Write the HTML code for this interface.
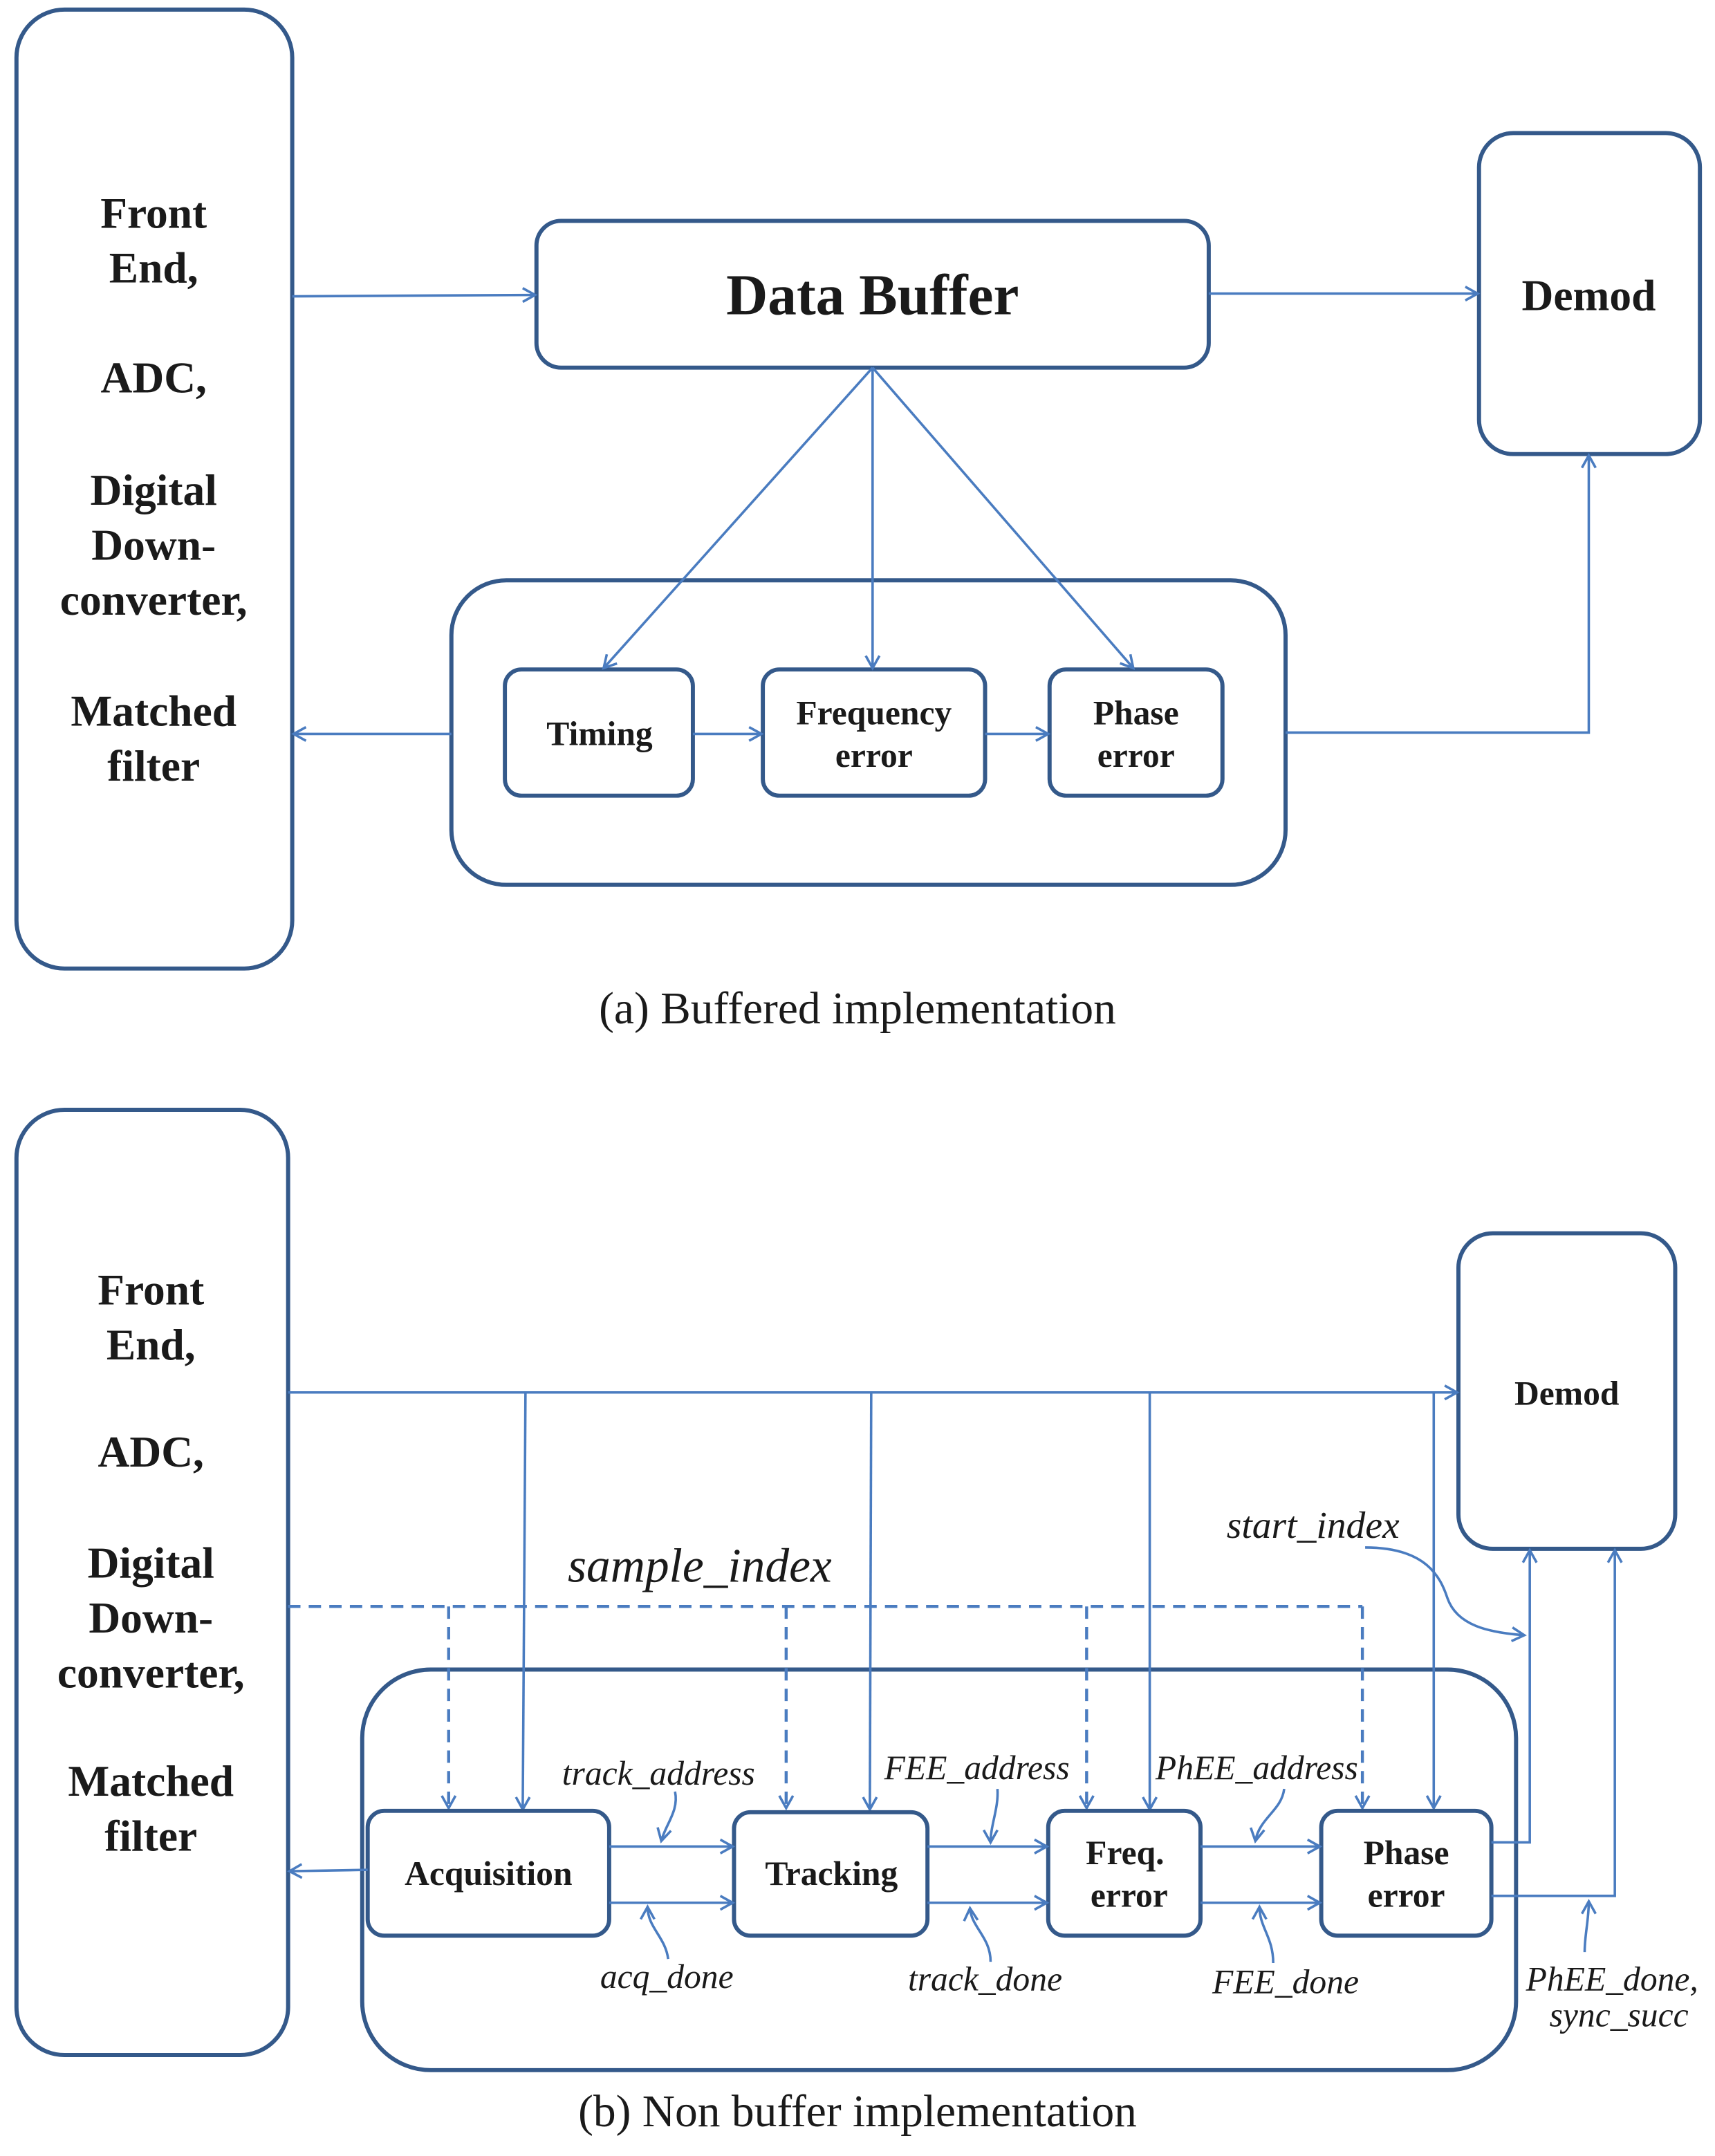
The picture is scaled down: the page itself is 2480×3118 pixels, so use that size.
<!DOCTYPE html>
<html><head><meta charset="utf-8"><style>
html,body{margin:0;padding:0;background:#fff}
svg{display:block}
.bx{fill:none;stroke:#34598a;stroke-width:3}
.ln{fill:none;stroke:#4a7cc0;stroke-width:1.8}
.ds{fill:none;stroke:#4a7cc0;stroke-width:2.2;stroke-dasharray:9,6}
.t{font-family:"Liberation Serif",serif;font-weight:bold;fill:#1a1a1a;text-anchor:middle}
.i{font-family:"Liberation Serif",serif;font-style:italic;fill:#1a1a1a;text-anchor:middle}
.c{font-family:"Liberation Serif",serif;fill:#1a1a1a;text-anchor:middle;font-size:33px}
</style></head><body>
<svg width="2480" height="3118" viewBox="0 0 1250 1571.6" preserveAspectRatio="none" xmlns="http://www.w3.org/2000/svg">
<defs>
<marker id="a" markerWidth="12" markerHeight="12" refX="10" refY="6" orient="auto" markerUnits="userSpaceOnUse">
<path d="M1,1 L10,6 L1,11" fill="none" stroke="#4a7cc0" stroke-width="1.8"/></marker>
</defs>
<!-- (a) -->
<rect class="bx" x="12" y="7" width="201" height="699" rx="35"/>
<g class="t" font-size="32">
<text x="112" y="166">Front</text><text x="112" y="206">End,</text>
<text x="112" y="286">ADC,</text>
<text x="112" y="368">Digital</text><text x="112" y="408">Down-</text><text x="112" y="448">converter,</text>
<text x="112" y="529">Matched</text><text x="112" y="569">filter</text>
</g>
<rect class="bx" x="391" y="161" width="490" height="107" rx="18"/>
<text class="t" x="636" y="229" font-size="42">Data Buffer</text>
<rect class="bx" x="1078" y="97" width="161" height="234" rx="25"/>
<text class="t" x="1158" y="226" font-size="32">Demod</text>
<line class="ln" x1="213" y1="216" x2="390" y2="215" marker-end="url(#a)"/>
<line class="ln" x1="881" y1="214" x2="1077" y2="214" marker-end="url(#a)"/>
<rect class="bx" x="329" y="423" width="608" height="222" rx="40"/>
<rect class="bx" x="368" y="488" width="137" height="92" rx="12"/>
<rect class="bx" x="556" y="488" width="162" height="92" rx="12"/>
<rect class="bx" x="765" y="488" width="126" height="92" rx="12"/>
<g class="t" font-size="25">
<text x="437" y="543">Timing</text>
<text x="637" y="528">Frequency</text><text x="637" y="559">error</text>
<text x="828" y="528">Phase</text><text x="828" y="559">error</text>
</g>
<line class="ln" x1="636" y1="268" x2="440" y2="487" marker-end="url(#a)"/>
<line class="ln" x1="636" y1="268" x2="636" y2="487" marker-end="url(#a)"/>
<line class="ln" x1="636" y1="268" x2="826" y2="487" marker-end="url(#a)"/>
<line class="ln" x1="505" y1="535" x2="555" y2="535" marker-end="url(#a)"/>
<line class="ln" x1="718" y1="535" x2="764" y2="535" marker-end="url(#a)"/>
<line class="ln" x1="329" y1="535" x2="214" y2="535" marker-end="url(#a)"/>
<polyline class="ln" points="937,534 1158,534 1158,332" marker-end="url(#a)"/>
<text class="c" x="625" y="746">(a)  Buffered implementation</text>

<!-- (b) -->
<rect class="bx" x="12" y="809" width="198" height="689" rx="35"/>
<g class="t" font-size="32">
<text x="110" y="951">Front</text><text x="110" y="991">End,</text>
<text x="110" y="1069">ADC,</text>
<text x="110" y="1150">Digital</text><text x="110" y="1190">Down-</text><text x="110" y="1230">converter,</text>
<text x="110" y="1309">Matched</text><text x="110" y="1349">filter</text>
</g>
<rect class="bx" x="1063" y="899" width="158" height="230" rx="25"/>
<text class="t" x="1142" y="1024" font-size="25">Demod</text>
<rect class="bx" x="264" y="1217" width="841" height="292" rx="50"/>
<line class="ln" x1="210" y1="1015" x2="1062" y2="1015" marker-end="url(#a)"/>
<line class="ln" x1="383" y1="1015" x2="381" y2="1319" marker-end="url(#a)"/>
<line class="ln" x1="635" y1="1015" x2="634" y2="1319" marker-end="url(#a)"/>
<line class="ln" x1="838" y1="1015" x2="838" y2="1319" marker-end="url(#a)"/>
<line class="ln" x1="1045" y1="1015" x2="1045" y2="1318" marker-end="url(#a)"/>
<polyline class="ds" points="210,1171 993,1171"/>
<line class="ds" x1="327" y1="1171" x2="327" y2="1318" marker-end="url(#a)"/>
<line class="ds" x1="573" y1="1171" x2="573" y2="1318" marker-end="url(#a)"/>
<line class="ds" x1="792" y1="1171" x2="792" y2="1318" marker-end="url(#a)"/>
<line class="ds" x1="993" y1="1171" x2="993" y2="1318" marker-end="url(#a)"/>
<text class="i" x="510" y="1153" font-size="35">sample_index</text>
<text class="i" x="957" y="1121" font-size="28">start_index</text>
<path class="ln" d="M995,1128 C1040,1128 1050,1150 1055,1165 C1062,1185 1085,1190 1111,1192" marker-end="url(#a)"/>
<rect class="bx" x="268" y="1320" width="176" height="91" rx="12"/>
<rect class="bx" x="535" y="1321" width="141" height="90" rx="12"/>
<rect class="bx" x="764" y="1320" width="111" height="91" rx="12"/>
<rect class="bx" x="963" y="1320" width="124" height="91" rx="12"/>
<g class="t" font-size="25">
<text x="356" y="1374">Acquisition</text>
<text x="606" y="1374">Tracking</text>
<text x="820" y="1359">Freq.</text><text x="823" y="1390">error</text>
<text x="1025" y="1359">Phase</text><text x="1025" y="1390">error</text>
</g>
<line class="ln" x1="444" y1="1346" x2="534" y2="1346" marker-end="url(#a)"/>
<line class="ln" x1="444" y1="1387" x2="534" y2="1387" marker-end="url(#a)"/>
<line class="ln" x1="676" y1="1346" x2="763" y2="1346" marker-end="url(#a)"/>
<line class="ln" x1="676" y1="1387" x2="763" y2="1387" marker-end="url(#a)"/>
<line class="ln" x1="875" y1="1346" x2="962" y2="1346" marker-end="url(#a)"/>
<line class="ln" x1="875" y1="1387" x2="962" y2="1387" marker-end="url(#a)"/>
<line class="ln" x1="268" y1="1363" x2="211" y2="1364" marker-end="url(#a)"/>
<polyline class="ln" points="1087,1343 1115,1343 1115,1130" marker-end="url(#a)"/>
<polyline class="ln" points="1087,1382 1177,1382 1177,1130" marker-end="url(#a)"/>
<g class="i" font-size="25">
<text x="480" y="1301">track_address</text>
<text x="712" y="1297">FEE_address</text>
<text x="916" y="1297">PhEE_address</text>
<text x="486" y="1449">acq_done</text>
<text x="718" y="1451">track_done</text>
<text x="937" y="1453">FEE_done</text>
<text x="1175" y="1451">PhEE_done,</text>
<text x="1180" y="1477">sync_succ</text>
</g>
<path class="ln" d="M492,1306 C495,1320 485,1330 482,1342" marker-end="url(#a)"/>
<path class="ln" d="M727,1304 C728,1318 722,1330 722,1343" marker-end="url(#a)"/>
<path class="ln" d="M936,1304 C934,1320 918,1325 915,1342" marker-end="url(#a)"/>
<path class="ln" d="M487,1428 C485,1412 472,1405 472,1390" marker-end="url(#a)"/>
<path class="ln" d="M722,1430 C722,1412 708,1405 707,1391" marker-end="url(#a)"/>
<path class="ln" d="M928,1431 C928,1412 918,1405 918,1390" marker-end="url(#a)"/>
<path class="ln" d="M1155,1423 C1155,1410 1158,1400 1158,1386" marker-end="url(#a)"/>
<text class="c" x="625" y="1550">(b)  Non buffer implementation</text>
</svg>
</body></html>
